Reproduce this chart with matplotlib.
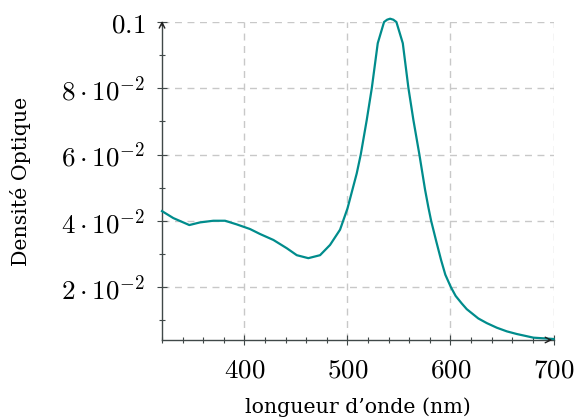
import matplotlib
matplotlib.use('Agg')
import matplotlib.pyplot as plt
from matplotlib.ticker import MultipleLocator, FixedLocator

# spectre d'absorption
longueur = [320, 331, 346.5, 356.9, 369.8, 381.2, 392.5, 405.4, 415.1, 428.1, 441.1,
            450.8, 462, 473.4, 483.1, 492.8, 500, 509, 512.9, 518.7, 523.6, 529.4,
            535.5, 538.5, 541.4, 544.5, 547.5, 553.7, 559.2, 564, 569.8, 575.3, 578.5,
            581.2, 586, 590.9, 595, 600.3, 605, 611, 615.8, 627, 635.2, 645, 654.7,
            664.4, 680.5, 700]
densite = [0.0429, 0.0408, 0.0387, 0.0395, 0.0400, 0.0400, 0.0389, 0.0375, 0.0360,
           0.0342, 0.0317, 0.0296, 0.0287, 0.0296, 0.0327, 0.0373, 0.0437, 0.0543,
           0.0600, 0.0704, 0.0800, 0.0936, 0.1000, 0.1007, 0.1010, 0.1007, 0.1000,
           0.0936, 0.0800, 0.0704, 0.0600, 0.0494, 0.0441, 0.0400, 0.0340, 0.0281,
           0.0237, 0.0200, 0.0173, 0.0150, 0.0133, 0.0105, 0.0091, 0.0077, 0.0066,
           0.0058, 0.0047, 0.0043]

xticks = [400, 500, 600, 700]
yticks = [0.02, 0.04, 0.06, 0.08, 0.1]
ytick_labels = [r'$2\cdot10^{-2}$', r'$4\cdot10^{-2}$', r'$6\cdot10^{-2}$',
                r'$8\cdot10^{-2}$', r'$0.1$']

plt.rcParams['mathtext.fontset'] = 'cm'
plt.rcParams['font.family'] = 'DejaVu Serif'

fig = plt.figure(figsize=(5.77, 4.17), dpi=100)
ax = fig.add_axes([0.2808, 0.1847, 0.6785, 0.7625])

ax.plot(longueur, densite, color='#008c8c', lw=1.6, clip_on=False, zorder=3)

ax.set_xlim(320, 700)
ax.set_ylim(0.004, 0.1)

ax.xaxis.set_major_locator(FixedLocator(xticks))
ax.xaxis.set_minor_locator(MultipleLocator(20))
ax.yaxis.set_major_locator(FixedLocator(yticks))
ax.yaxis.set_minor_locator(MultipleLocator(0.01))
ax.set_xticklabels([f'${v}$' for v in xticks])
ax.set_yticklabels(ytick_labels)

ax.tick_params(which='major', direction='inout', length=7, width=0.8,
               color='#404848', labelsize=19.5, pad=8.5)
ax.tick_params(which='minor', direction='inout', length=4, width=0.8,
               color='#404848')

ax.grid(True, which='major', color='#c8c8c8', ls=(0, (5, 4)), lw=1)

for s in ['top', 'right']:
    ax.spines[s].set_visible(False)
for s in ['left', 'bottom']:
    ax.spines[s].set_color('#404848')
    ax.spines[s].set_linewidth(1)

# fleches au bout des axes
ax.annotate('', xy=(1.004, 0), xytext=(0.98, 0), xycoords='axes fraction',
            arrowprops=dict(arrowstyle='->', color='#202020', lw=1))
ax.annotate('', xy=(0, 1.012), xytext=(0, 0.98), xycoords='axes fraction',
            arrowprops=dict(arrowstyle='->', color='#202020', lw=1))

ax.set_xlabel("longueur d\u2019onde (nm)", fontsize=14.8, labelpad=10)
ax.set_ylabel('Densité Optique', fontsize=14.8)
ax.yaxis.set_label_coords(-0.335, 0.5)

fig.savefig('out.png', dpi=100)
